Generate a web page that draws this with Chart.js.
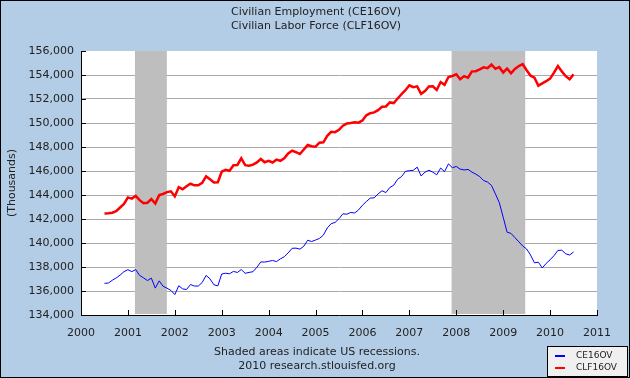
<!DOCTYPE html>
<html>
<head>
<meta charset="utf-8">
<script src="https://cdn.jsdelivr.net/npm/chart.js@4.4.1/dist/chart.umd.min.js"></script>
<style>
  html, body { margin: 0; padding: 0; background: #b4cde6; }
  canvas { display: block; }
</style>
</head>
<body>
<canvas id="chart" width="630" height="378"></canvas>
<script>
const titleLines = ['Civilian Employment (CE16OV)', 'Civilian Labor Force (CLF16OV)'];
const footLines = ['Shaded areas indicate US recessions.', '2010 research.stlouisfed.org'];
const yTicks = [134000, 136000, 138000, 140000, 142000, 144000, 146000, 148000, 150000, 152000, 154000, 156000];
const xYears = [2000, 2001, 2002, 2003, 2004, 2005, 2006, 2007, 2008, 2009, 2010, 2011];
const recessions = [[2001.15, 2001.83], [2007.9, 2009.47]];
const seriesNames = ['CE16OV', 'CLF16OV'];
const firstMonth = { year: 2000, month: 7 };

// monthly, Jul 2000 .. Jul 2010 (thousands)
const ce16ov = [
  136640, 136662, 136893, 137088, 137322, 137614,
  137778, 137612, 137783, 137299, 137092, 136873, 137071, 136241, 136846, 136392, 136238, 136047,
  135701, 136438, 136177, 136126, 136539, 136415, 136413, 136705, 137302, 137008, 136521, 136426,
  137417, 137482, 137434, 137633, 137544, 137790, 137474, 137549, 137609, 137984, 138424, 138411,
  138472, 138542, 138453, 138680, 138852, 139174, 139556, 139573, 139487, 139732, 140231, 140125,
  140245, 140385, 140654, 141254, 141609, 141714, 142026, 142434, 142401, 142548, 142499, 142752,
  143150, 143457, 143741, 143761, 144089, 144353, 144202, 144625, 144815, 145314, 145534, 145970,
  146028, 146057, 146320, 145586, 145903, 146063, 145905, 145682, 146244, 145946, 146595, 146273,
  146378, 146156, 146086, 146132, 145908, 145737, 145532, 145203, 145076, 144802, 144100, 143369,
  142152, 140900, 140800, 140450, 140100, 139750, 139500, 139000, 138350, 138400, 137920, 138300,
  138600, 138950, 139380, 139400, 139100, 139000, 139250
];
const clf16ov = [
  142450, 142470, 142520, 142650, 142960, 143250,
  143800, 143700, 143924, 143569, 143318, 143357, 143654, 143284, 143989, 144086, 144240, 144305,
  143883, 144653, 144481, 144725, 144938, 144808, 144803, 145009, 145552, 145314, 145041, 145066,
  145937, 146100, 146022, 146474, 146500, 147056, 146485, 146445, 146530, 146716, 147000, 146729,
  146842, 146709, 146944, 146850, 147065, 147460, 147692, 147564, 147415, 147793, 148162, 148059,
  148029, 148364, 148391, 148926, 149261, 149238, 149432, 149779, 149954, 150001, 150065, 150030,
  150214, 150641, 150813, 150881, 151069, 151354, 151377, 151716, 151662, 152041, 152406, 152732,
  153144, 152983, 153051, 152435, 152670, 153041, 153054, 152749, 153414, 153183, 153835, 153918,
  154063, 153653, 153908, 153769, 154303, 154313, 154469, 154641, 154570, 154876, 154512, 154653,
  154210, 154538, 154133, 154509, 154747, 154900, 154400, 153940, 153780, 153110, 153300, 153484,
  153694, 154200, 154750, 154300, 153900, 153640, 154050
];

function monthX(i) {
  return firstMonth.year + (firstMonth.month - 1 + i) / 12;
}
function points(vals) {
  return vals.map((v, i) => ({ x: monthX(i), y: v }));
}

const FONT = '"DejaVu Sans", Verdana, sans-serif';

const fredDecor = {
  id: 'fredDecor',
  beforeDraw(chart) {
    const { ctx, chartArea: a } = chart;
    ctx.save();
    ctx.fillStyle = '#b4cde6';
    ctx.fillRect(0, 0, chart.width, chart.height);
    ctx.fillStyle = '#ffffff';
    ctx.fillRect(a.left, a.top, a.right - a.left, a.bottom - a.top);
    ctx.restore();
  },
  beforeDatasetsDraw(chart) {
    const { ctx, chartArea: a, scales: { x } } = chart;
    ctx.save();
    ctx.fillStyle = '#bebebe';
    recessions.forEach(([s, e]) => {
      const x0 = x.getPixelForValue(s), x1 = x.getPixelForValue(e);
      ctx.fillRect(x0, a.top, x1 - x0, a.bottom - a.top - 1);
    });
    ctx.restore();
  },
  afterDraw(chart) {
    const { ctx, chartArea: a, scales: { x, y } } = chart;
    ctx.save();
    // inside tick stubs
    ctx.strokeStyle = '#000';
    ctx.lineWidth = 1;
    ctx.beginPath();
    yTicks.forEach(v => {
      const py = Math.round(y.getPixelForValue(v)) + 0.5;
      ctx.moveTo(a.left, py); ctx.lineTo(a.left + 5, py);
    });
    xYears.forEach(v => {
      const px = Math.round(x.getPixelForValue(v)) + 0.5;
      ctx.moveTo(px, a.bottom); ctx.lineTo(px, a.bottom - 5);
    });
    ctx.stroke();

    ctx.fillStyle = '#222';
    ctx.font = '11px ' + FONT;
    ctx.textAlign = 'center';
    ctx.textBaseline = 'middle';
    ctx.fillText(titleLines[0], 316, 12);
    ctx.fillText(titleLines[1], 316, 26);
    ctx.fillText(footLines[0], 317, 352);
    ctx.fillText(footLines[1], 317, 366);

    // legend box
    ctx.fillStyle = '#f0f0f0';
    ctx.fillRect(547, 346, 80, 30);
    ctx.strokeStyle = '#000';
    ctx.strokeRect(547.5, 346.5, 80, 30);
    const cols = ['#0000ff', '#ff0000'];
    ctx.font = '9px ' + FONT;
    ctx.textAlign = 'left';
    seriesNames.forEach((n, i) => {
      const ly = 356 + i * 12;
      ctx.fillStyle = cols[i];
      ctx.fillRect(555, ly - 1, 10, 2);
      ctx.fillStyle = '#222';
      ctx.fillText(n, 576, ly);
    });

    ctx.strokeStyle = '#000';
    ctx.strokeRect(0.5, 0.5, chart.width - 1, chart.height - 1);
    ctx.restore();
  }
};

new Chart(document.getElementById('chart'), {
  type: 'line',
  data: {
    datasets: [
      { label: seriesNames[0], data: points(ce16ov), borderColor: '#0000ff', borderWidth: 1, pointRadius: 0, tension: 0 },
      { label: seriesNames[1], data: points(clf16ov), borderColor: '#ff0000', borderWidth: 2.5, pointRadius: 0, tension: 0 }
    ]
  },
  options: {
    responsive: false,
    animation: false,
    layout: { padding: { left: 0, right: 33, top: 51, bottom: 0 } },
    plugins: { legend: { display: false }, tooltip: { enabled: false } },
    scales: {
      x: {
        type: 'linear', min: 2000, max: 2011,
        afterFit(s) { s.height = 63; },
        afterBuildTicks(s) { s.ticks = xYears.map(v => ({ value: v })); },
        grid: { display: false },
        border: { display: true, color: '#000', width: 1 },
        ticks: { padding: 4, color: '#222', font: { family: FONT, size: 11 }, maxRotation: 0, callback: v => String(v) }
      },
      y: {
        min: 134000, max: 156000,
        afterFit(s) { s.width = 81; },
        afterBuildTicks(s) { s.ticks = yTicks.map(v => ({ value: v })); },
        grid: {
          drawTicks: false,
          color: c => (c.tick && (c.tick.value === 156000 || c.tick.value === 134000)) ? 'rgba(0,0,0,0)' : '#aaaaaa'
        },
        border: { display: true, color: '#000', width: 1 },
        title: { display: true, text: '(Thousands)', color: '#222', font: { family: FONT, size: 11 }, padding: { top: 6, bottom: 0 } },
        ticks: { padding: 7, color: '#222', font: { family: FONT, size: 11 }, callback: v => v.toLocaleString('en-US') }
      }
    }
  },
  plugins: [fredDecor]
});
</script>
</body>
</html>
